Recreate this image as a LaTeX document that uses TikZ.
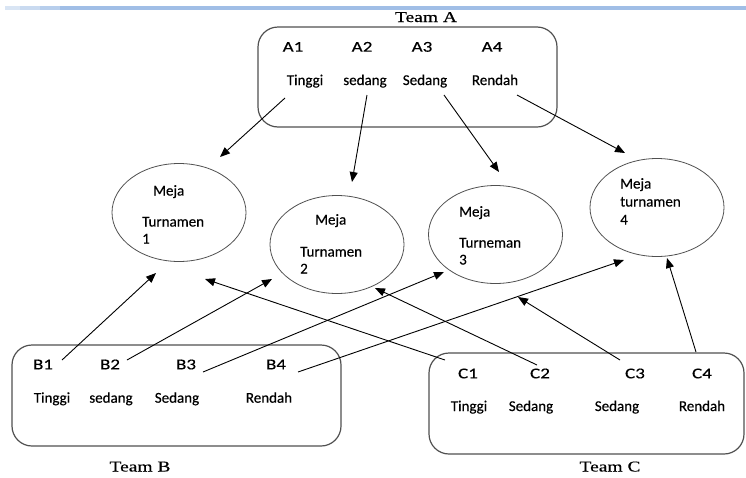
\documentclass[tikz,border=0pt]{standalone}
\usepackage{fontspec}
\setmainfont[FakeBold=0.4]{Carlito}
\newfontfamily\teamfont[FakeStretch=1.3,FakeBold=0.3]{Liberation Serif}
\newfontfamily\labfont[FakeStretch=1.27,FakeBold=0.4]{Carlito}
\usetikzlibrary{arrows.meta,shapes.geometric}
\definecolor{topblue}{RGB}{160,190,230}
\definecolor{boxgray}{RGB}{80,80,80}
\begin{document}
\begin{tikzpicture}[x=1pt,y=-1pt,
  teambox/.style={draw=boxgray,line width=1.2pt,rounded corners=20pt,inner sep=0pt},
  meja/.style={draw=boxgray,line width=0.8pt,ellipse,inner sep=0pt,minimum width=134pt,minimum height=98pt},
  lab/.style={font=\labfont\fontsize{15}{18}\selectfont,anchor=base,inner sep=0pt},
  word/.style={font=\fontsize{15}{18}\selectfont,anchor=base,inner sep=0pt},
  mtext/.style={font=\fontsize{15}{18}\selectfont,anchor=base west,inner sep=0pt},
  team/.style={font=\teamfont\fontsize{15}{18}\selectfont,anchor=base,inner sep=0pt},
  arr/.style={-{Triangle[length=10pt,width=8pt]},line width=0.9pt,black}]
\useasboundingbox (0,0) rectangle (746,477);
% top rule
\fill[topblue] (5,6) rectangle (746,10);
\fill[white,opacity=0.25] (5,6) rectangle (60,10);
\fill[white,opacity=0.25] (5,6) rectangle (40,10);
\fill[white,opacity=0.3] (5,6) rectangle (20,10);

% team boxes
\node[teambox,minimum width=299pt,minimum height=100pt] (boxA) at (407.5,77) {};
\node[teambox,minimum width=329pt,minimum height=101pt] (boxB) at (176.5,395.5) {};
\node[teambox,minimum width=315pt,minimum height=101pt] (boxC) at (586.5,403.5) {};

\node[team] (tA) at (426,22) {Team A};
\node[team] (tB) at (140,471.5) {Team B};
\node[team] (tC) at (610,471.5) {Team C};

% Team A labels
\node[lab] (A1) at (293,51.7) {A1};
\node[lab] (A2) at (362,51.7) {A2};
\node[lab] (A3) at (422,51.7) {A3};
\node[lab] (A4) at (492,51.7) {A4};
\node[word] (wA1) at (305,85) {Tinggi};
\node[word] (wA2) at (365,85) {sedang};
\node[word] (wA3) at (425,85) {Sedang};
\node[word] (wA4) at (495,85) {Rendah};

% Team B labels
\node[lab] (B1) at (43,369.3) {B1};
\node[lab] (B2) at (110,369.3) {B2};
\node[lab] (B3) at (186,369.3) {B3};
\node[lab] (B4) at (276,369.3) {B4};
\node[word] (wB1) at (52,402.7) {Tinggi};
\node[word] (wB2) at (111,402.7) {sedang};
\node[word] (wB3) at (177,402.7) {Sedang};
\node[word] (wB4) at (269,402.7) {Rendah};

% Team C labels
\node[lab] (C1) at (468,378.3) {C1};
\node[lab] (C2) at (540,378.3) {C2};
\node[lab] (C3) at (635,378.3) {C3};
\node[lab] (C4) at (702,378.3) {C4};
\node[word] (wC1) at (469,411) {Tinggi};
\node[word] (wC2) at (531,411) {Sedang};
\node[word] (wC3) at (617,411) {Sedang};
\node[word] (wC4) at (702,411) {Rendah};

% tables
\node[meja] (m1) at (179,212.5) {};
\node[meja] (m2) at (337,244.5) {};
\node[meja] (m3) at (495.5,234.5) {};
\node[meja] (m4) at (657,207.5) {};

\node[mtext] (m1a) at (153,195.5) {Meja};
\node[mtext] (m1b) at (142,226.5) {Turnamen};
\node[mtext] (m1c) at (142,243.5) {1};
\node[mtext] (m2a) at (315,224.5) {Meja};
\node[mtext] (m2b) at (300,256.5) {Turnamen};
\node[mtext] (m2c) at (300,273.5) {2};
\node[mtext] (m3a) at (459,216.5) {Meja};
\node[mtext] (m3b) at (459,247.5) {Turneman};
\node[mtext] (m3c) at (459,264.5) {3};
\node[mtext] (m4a) at (620,188.5) {Meja};
\node[mtext] (m4b) at (620,206.5) {turnamen};
\node[mtext] (m4c) at (620,224.5) {4};

% arrow end points
\coordinate (a1s) at (285,98);  \coordinate (a1e) at (220,157);
\coordinate (a2s) at (367,95);  \coordinate (a2e) at (352,182);
\coordinate (a3s) at (444,95);  \coordinate (a3e) at (499,172);
\coordinate (a4s) at (517,95);  \coordinate (a4e) at (625,153);
\coordinate (b1s) at (62,360);  \coordinate (b1e) at (156,273);
\coordinate (b2s) at (127,360); \coordinate (b2e) at (272,279);
\coordinate (b3s) at (203,372); \coordinate (b3e) at (444,272);
\coordinate (b4s) at (298,372); \coordinate (b4e) at (624,260);
\coordinate (c1s) at (445,360); \coordinate (c1e) at (205,279);
\coordinate (c2s) at (537,365); \coordinate (c2e) at (375,288);
\coordinate (c3s) at (620,360); \coordinate (c3e) at (518,297);
\coordinate (c4s) at (696,352); \coordinate (c4e) at (667,258);

\foreach \p in {a1,a2,a3,a4,b1,b2,b3,b4,c1,c2,c3,c4}
  \draw[arr] (\p s) -- (\p e);
\end{tikzpicture}
\end{document}
